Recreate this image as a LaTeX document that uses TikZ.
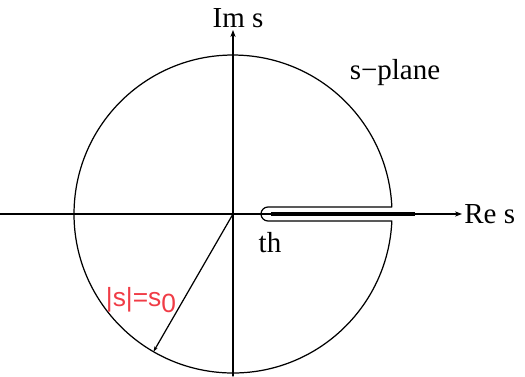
\documentclass[tikz,border=0pt]{standalone}
\usepackage{fontspec}
\usetikzlibrary{arrows.meta}
\setmainfont{Liberation Serif}
\newfontfamily\labelsans{Liberation Sans}
\definecolor{radred}{RGB}{240,60,70}
\begin{document}
\begin{tikzpicture}[x=0.02cm, y=0.02cm, >={Stealth[length=4pt, width=3pt]}, line cap=round, line join=round,
	font=\fontsize{16.5}{19}\selectfont]
	\useasboundingbox (-233,-162) rectangle (292,214);
	\coordinate (O) at (0,0);

	% axes
	\draw[->, line width=0.7pt] (-233,0) -- (229,0) node[right, inner sep=1pt] (re) {Re s};
	\draw[->, line width=0.7pt] (0,-162) -- (0,184) node[above, inner sep=1pt, xshift=5*0.02cm] (im) {Im s};

	% contour: big circle with keyhole along the cut
	\begin{scope}[line width=0.7pt]
		\coordinate (cutup) at (158.85,7);
		\coordinate (cutlow) at (158.85,-7);
		\draw (cutup) -- (35,7) arc[start angle=90, end angle=270, radius=7]
			-- (cutlow) arc[start angle=-2.52, end angle=-357.48, radius=159];
	\end{scope}

	% branch cut
	\coordinate (th) at (38,0);
	\coordinate (cutend) at (182,0);
	\draw[line width=2.4pt, line cap=butt] (th) -- (cutend);

	% radius
	\coordinate (rim) at (240:159);
	\draw[-{Stealth[length=3pt, width=2pt]}, line width=0.7pt] (O) -- (rim);

	% labels
	\node (plane) at (162,141) {s−plane};
	\node (thlab) at (37,-29) {th};
	\node[text=radred, font=\labelsans\fontsize{15}{18}\selectfont] (rad) at (-92,-86)
		{|s|=s\raisebox{-0.45ex}{0}};
\end{tikzpicture}
\end{document}
